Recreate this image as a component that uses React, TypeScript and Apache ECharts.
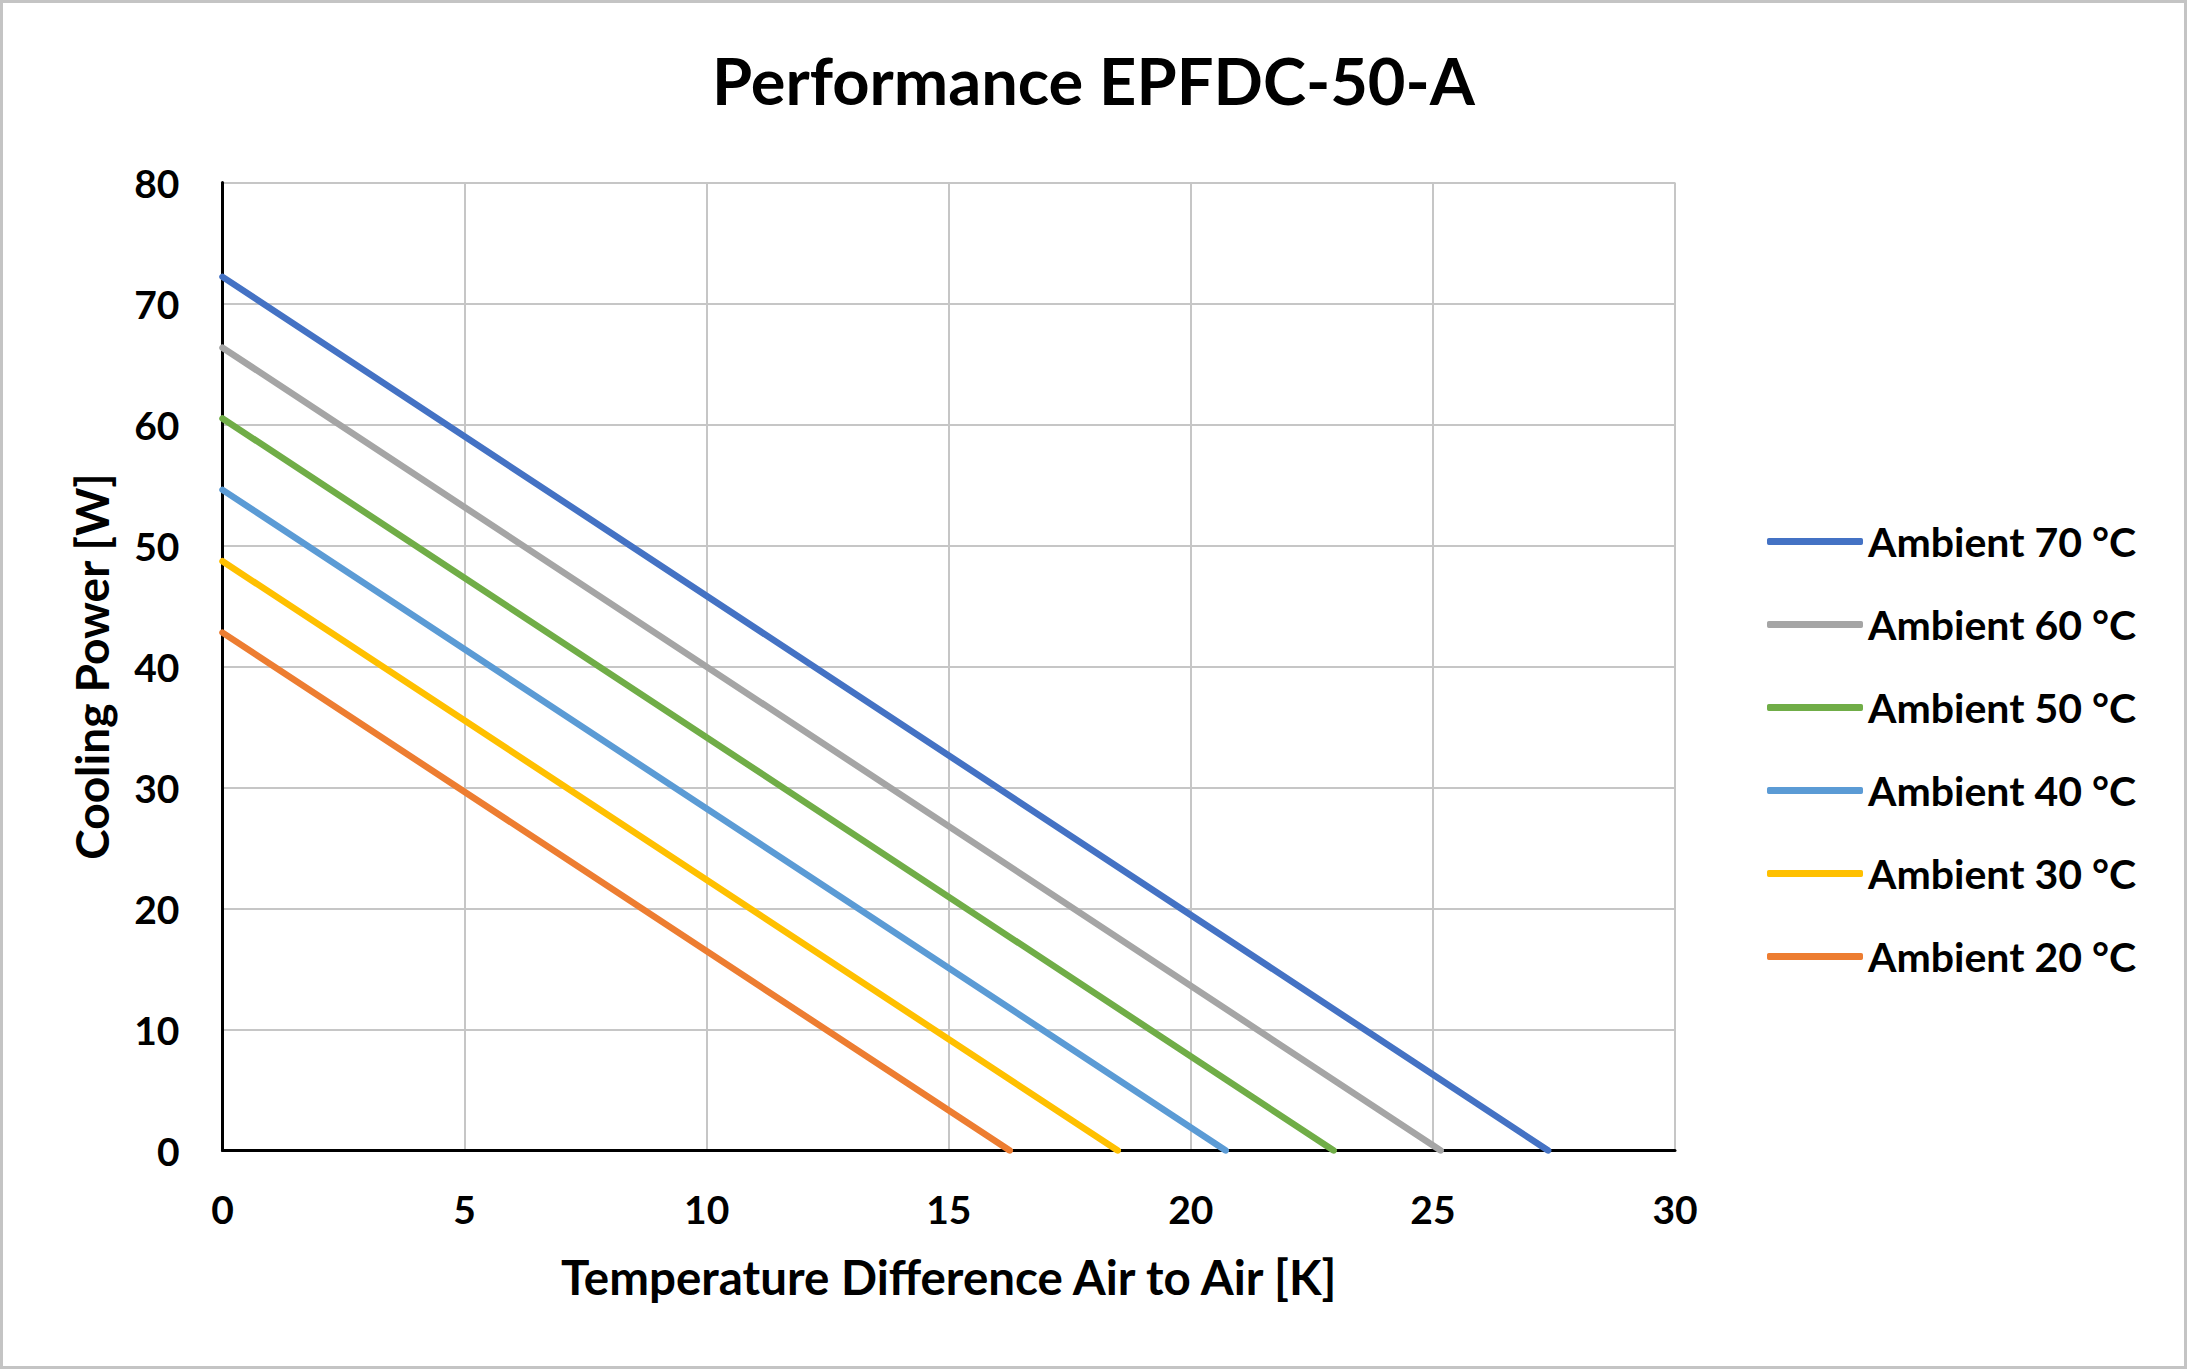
import React, { useEffect, useRef } from "react";
import * as echarts from "echarts";

const chartTitle = "Performance EPFDC-50-A";
const xAxisName = "Temperature Difference Air to Air [K]";
const yAxisName = "Cooling Power [W]";

const seriesNames = [
  "Ambient 70 °C",
  "Ambient 60 °C",
  "Ambient 50 °C",
  "Ambient 40 °C",
  "Ambient 30 °C",
  "Ambient 20 °C",
];
const seriesColors = ["#4472C4", "#A5A5A5", "#70AD47", "#5B9BD5", "#FFC000", "#ED7D31"];

// [temperature difference K, cooling power W]
const ambient70 = [[0, 72.2], [27.38, 0]];
const ambient60 = [[0, 66.35], [25.16, 0]];
const ambient50 = [[0, 60.5], [22.95, 0]];
const ambient40 = [[0, 54.6], [20.72, 0]];
const ambient30 = [[0, 48.7], [18.49, 0]];
const ambient20 = [[0, 42.8], [16.26, 0]];
const seriesData = [ambient70, ambient60, ambient50, ambient40, ambient30, ambient20];

const FONT = "Lato";

export default function App() {
  const ref = useRef<HTMLDivElement>(null);

  useEffect(() => {
    document.body.style.margin = "0";
    const chart = echarts.init(ref.current!, null, { renderer: "svg" });
    chart.setOption({
      animation: false,
      backgroundColor: "#ffffff",
      textStyle: { fontFamily: FONT, fontWeight: "bold", color: "#000" },
      title: {
        text: chartTitle,
        left: "center",
        top: 42,
        textStyle: { fontFamily: FONT, fontSize: 65, fontWeight: "bold", color: "#000" },
      },
      graphic: [
        {
          type: "rect",
          shape: { x: 1.5, y: 1.5, width: 2184, height: 1366 },
          style: { fill: "none", stroke: "#c4c4c4", lineWidth: 3 },
          silent: true,
        },
      ],
      legend: {
        orient: "vertical",
        left: 1762,
        top: 516,
        icon: "roundRect",
        itemWidth: 96,
        itemHeight: 7,
        itemGap: 42,
        data: seriesNames,
        textStyle: { fontFamily: FONT, fontSize: 41, fontWeight: "bold", color: "#000", lineHeight: 40 },
      },
      grid: { left: 222.5, right: 512, top: 182.5, bottom: 218.5, containLabel: false },
      xAxis: {
        type: "value",
        min: 0,
        max: 30,
        interval: 5,
        name: xAxisName,
        nameLocation: "middle",
        nameGap: 102,
        nameTextStyle: { fontFamily: FONT, fontSize: 47.5, fontWeight: "bold", color: "#000" },
        axisLine: { show: true, onZero: false, lineStyle: { color: "#000", width: 3 } },
        axisTick: { show: false },
        axisLabel: { margin: 39, fontFamily: FONT, fontSize: 39, fontWeight: "bold", color: "#000" },
        splitLine: { show: true, lineStyle: { color: "#c6c6c6", width: 2 } },
      },
      yAxis: {
        type: "value",
        min: 0,
        max: 80,
        interval: 10,
        name: yAxisName,
        nameLocation: "middle",
        nameGap: 108,
        nameRotate: 90,
        nameTextStyle: { fontFamily: FONT, fontSize: 46, fontWeight: "bold", color: "#000" },
        axisLine: { show: true, lineStyle: { color: "#000", width: 3 } },
        axisTick: { show: false },
        axisLabel: { margin: 43, fontFamily: FONT, fontSize: 39, fontWeight: "bold", color: "#000" },
        splitLine: { show: true, lineStyle: { color: "#c6c6c6", width: 2 } },
      },
      series: seriesNames.map((name, i) => ({
        name,
        type: "line",
        data: seriesData[i],
        showSymbol: false,
        symbol: "none",
        color: seriesColors[i],
        lineStyle: { color: seriesColors[i], width: 6.5, cap: "round" },
        z: 3,
      })),
    });
    return () => chart.dispose();
  }, []);

  return <div ref={ref} style={{ width: 2187, height: 1369 }} />;
}
